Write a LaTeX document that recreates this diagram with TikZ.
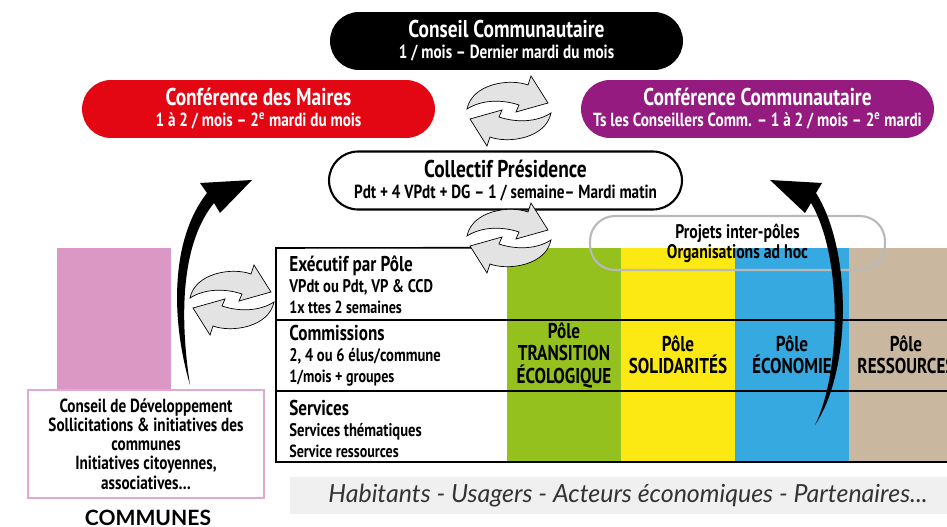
\documentclass[tikz,border=0pt]{standalone}
\usepackage{fontspec}
\newfontfamily\din[FakeStretch=0.8]{PT Sans}
\newfontfamily\latofont{Lato}
\newcommand\fs[2]{\fontsize{#1}{#2}\selectfont}
\definecolor{maires}{HTML}{E30613}
\definecolor{commu}{HTML}{951B81}
\definecolor{polegreen}{HTML}{95C11F}
\definecolor{poleyellow}{HTML}{FCE812}
\definecolor{poleblue}{HTML}{36A9E1}
\definecolor{poletan}{HTML}{C9B89F}
\definecolor{pinkfill}{HTML}{DB98C4}
\definecolor{pinkline}{HTML}{E3A8D0}

\begin{document}
\begin{tikzpicture}[x=0.02cm,y=-0.02cm,
  pill/.style={rectangle,rounded corners=0.58cm,minimum width=7.06cm,minimum height=1.16cm,inner sep=0pt,align=center,font=\din\bfseries,text=white},
  pole/.style={rectangle,minimum width=2.28cm,minimum height=4.28cm,inner sep=0pt,align=center,font=\din\bfseries\fs{12.2}{12.8}},
  rowhead/.style={anchor=north west,align=left,inner sep=0pt,font=\din\bfseries},
  tablerule/.style={line width=0.9pt},
  cyclearrows/.pic={
    \foreach \r in {0,180}
      \filldraw[rotate=\r,fill=gray!22,draw=black,line width=0.4pt] (-42,-2) .. controls (-37,-27) and (0,-33) .. (19,-26) -- (22,-35) -- (39,-8) -- (7,1) -- (10,-6) .. controls (-8,-12) and (-28,-11) .. cycle;
  }]
\useasboundingbox (0,0) rectangle (947,527);

\node[pill,fill=black] (conseil) at (506.5,41) {\fs{13.8}{15.5}Conseil Communautaire\\\fs{10.8}{12}1 / mois – Dernier mardi du mois};
\node[pill,fill=maires] (maires) at (258.5,109) {\fs{13.8}{15.5}Conférence des Maires\\\fs{10.8}{12}1 à 2 / mois – 2\textsuperscript{e} mardi du mois};
\node[pill,fill=commu] (conference) at (757.5,109) {\fs{13.8}{15.5}Conférence Communautaire\\\fs{10.8}{12}Ts les Conseillers Comm. – 1 à 2 / mois – 2\textsuperscript{e} mardi};
\node[pill,draw=black,line width=1.2pt,fill=white,text=black] (collectif) at (505.5,180.5) {\fs{13.8}{15.5}Collectif Présidence\\\fs{10.8}{12}Pdt + 4 VPdt + DG – 1 / semaine– Mardi matin};

\foreach \c/\n/\t [count=\i from 0] in {polegreen/transition/{Pôle\\TRANSITION\\ÉCOLOGIQUE},poleyellow/solidarites/{Pôle\\SOLIDARITÉS},poleblue/economie/{Pôle\\ÉCONOMIE},poletan/ressources/{Pôle\\RESSOURCES}}
  \node[pole,fill=\c] (\n) at (564+114*\i,355) {\t};

\draw[tablerule] (transition.north west) -- (276,248) -- (276,462) -- (947,462);
\draw[tablerule] (276,320) -- (947,320) (276,391) -- (947,391);

\node[rowhead] (executif) at (289,255) {\fs{12.2}{15}Exécutif par Pôle\\\fs{10.4}{10.5}VPdt ou Pdt, VP \& CCD\\1x ttes 2 semaines};
\node[rowhead] (commissions) at (289,325) {\fs{12.2}{15}Commissions\\\fs{10.4}{11}2, 4 ou 6 élus/commune\\1/mois + groupes};
\node[rowhead] (services) at (289,400) {\fs{12.2}{15}Services\\\fs{10.4}{10.5}Services thématiques\\Service ressources};

\node[draw=gray!55,line width=1.2pt,rounded corners=0.5cm,minimum width=5.9cm,minimum height=1.08cm,inner sep=0pt,align=center,font=\din\bfseries\fs{11.2}{11.5}] (interpoles) at (737.5,243) {Projets inter-pôles\\Organisations ad hoc};

\fill[gray!12] (290,477) rectangle (947,514);
\node[font=\latofont\itshape\fs{14.2}{15},text=black!80] (habitants) at (628,496) {Habitants - Usagers - Acteurs économiques - Partenaires...};

\fill[pinkfill] (57,248) rectangle (171,390);
\node[draw=pinkline,line width=1.5pt,fill=white,minimum width=4.72cm,minimum height=2.16cm,inner sep=0pt,align=center,font=\din\bfseries\fs{10.8}{10.9}] (condev) at (146,444) {Conseil de Développement\\Sollicitations \& initiatives des\\communes\\Initiatives citoyennes,\\associatives…};
\node[anchor=base,inner sep=0pt,font=\latofont\bfseries\fs{12}{14}] (communes) at (148,525) {COMMUNES};

\pic at (509,111) {cyclearrows};
\pic at (509,238) {cyclearrows};
\pic at (232,300) {cyclearrows};

\fill (190,385) .. controls (171,320) and (170,240) .. (207,193) -- (200,183) -- (252,180) -- (220,213) -- (214,203) .. controls (180,245) and (180,320) .. cycle;
\fill (815,425) .. controls (852,370) and (852,250) .. (816,193) -- (822,183) -- (770,180) -- (805,213) -- (811,203) .. controls (842,255) and (842,370) .. cycle;
\end{tikzpicture}
\end{document}
